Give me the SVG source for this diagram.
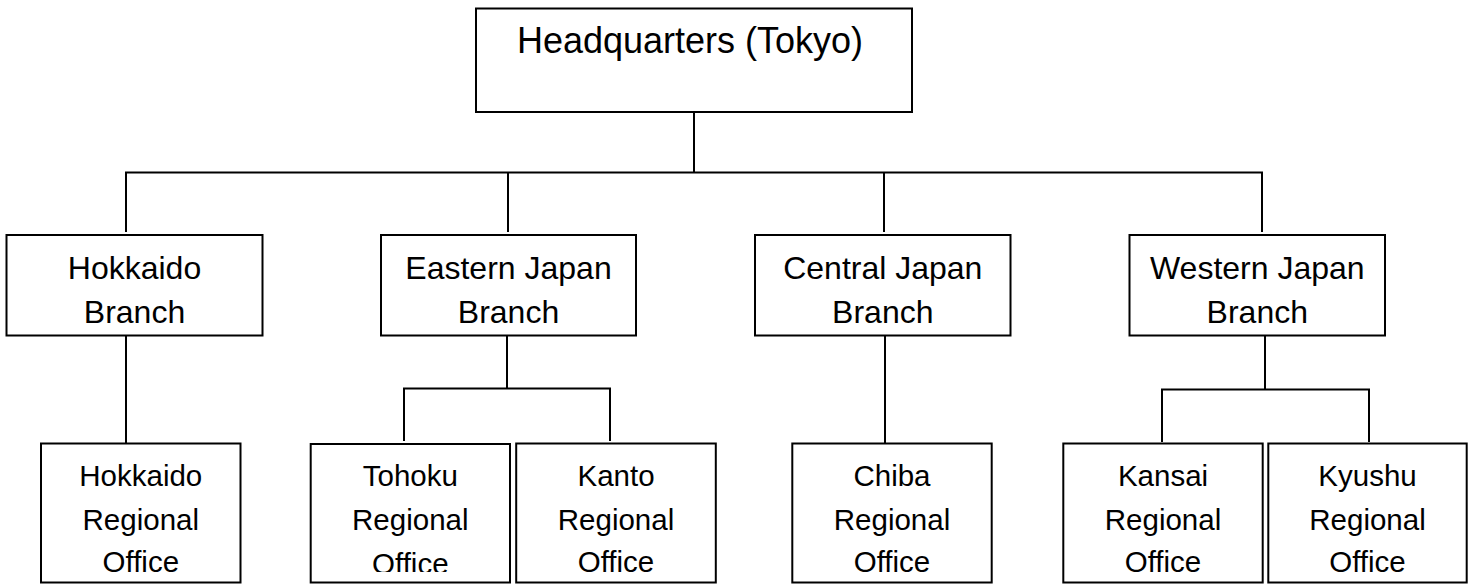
<svg xmlns="http://www.w3.org/2000/svg" width="1476" height="584" viewBox="0 0 1476 584">
<style>
.box{fill:#fff;stroke:#000;stroke-width:2}
.ln{fill:none;stroke:#000;stroke-width:2}
text{font-family:"Liberation Sans",Arial,sans-serif;fill:#000;text-anchor:middle}
.hq{font-size:36px}
.br{font-size:32px}
.ro{font-size:29.5px}
</style>
<defs>
<clipPath id="clipTohoku"><rect x="300" y="440" width="220" height="132"/></clipPath>
</defs>
<rect width="1476" height="584" fill="#fff"/>
<g id="connectors">
<path class="ln" d="M694 112V172.5"/>
<path class="ln" d="M126 232V172.5H1262V232"/>
<path class="ln" d="M508 172.5V232"/>
<path class="ln" d="M884 172.5V232"/>
<path class="ln" d="M126 336V443"/>
<path class="ln" d="M507 336V388.5"/>
<path class="ln" d="M404 441V388.5H610V441"/>
<path class="ln" d="M885 336V443"/>
<path class="ln" d="M1265 336V389.5"/>
<path class="ln" d="M1162 442V389.5H1369V442"/>
</g>
<g id="hq">
<rect class="box" x="476" y="8.5" width="436" height="103.5"/>
<text class="hq" x="690" y="53">Headquarters (Tokyo)</text>
</g>
<g id="hokkaido-branch">
<rect class="box" x="6.5" y="235" width="256" height="100.5"/>
<text class="br" x="134.5" y="279">Hokkaido</text>
<text class="br" x="134.5" y="323">Branch</text>
</g>
<g id="eastern-branch">
<rect class="box" x="381" y="235" width="255" height="100.5"/>
<text class="br" x="508.5" y="279">Eastern Japan</text>
<text class="br" x="508.5" y="323">Branch</text>
</g>
<g id="central-branch">
<rect class="box" x="755" y="235" width="255.5" height="100.5"/>
<text class="br" x="882.8" y="279">Central Japan</text>
<text class="br" x="882.8" y="323">Branch</text>
</g>
<g id="western-branch">
<rect class="box" x="1129.5" y="235" width="255.5" height="100.5"/>
<text class="br" x="1257.3" y="279">Western Japan</text>
<text class="br" x="1257.3" y="323">Branch</text>
</g>
<g id="hokkaido-office">
<rect class="box" x="41" y="443.5" width="199.5" height="139"/>
<text class="ro" x="140.8" y="486">Hokkaido</text>
<text class="ro" x="140.8" y="530">Regional</text>
<text class="ro" x="140.8" y="572">Office</text>
</g>
<g id="tohoku-office">
<rect class="box" x="310.7" y="444" width="199.3" height="138.5"/>
<g clip-path="url(#clipTohoku)">
<text class="ro" x="410.3" y="486">Tohoku</text>
<text class="ro" x="410.3" y="530">Regional</text>
<text class="ro" x="410.3" y="574">Office</text>
</g>
</g>
<g id="kanto-office">
<rect class="box" x="516.2" y="443.5" width="199.6" height="139"/>
<text class="ro" x="616" y="486">Kanto</text>
<text class="ro" x="616" y="530">Regional</text>
<text class="ro" x="616" y="572">Office</text>
</g>
<g id="chiba-office">
<rect class="box" x="792.3" y="443.5" width="199.4" height="139"/>
<text class="ro" x="892" y="486">Chiba</text>
<text class="ro" x="892" y="530">Regional</text>
<text class="ro" x="892" y="572">Office</text>
</g>
<g id="kansai-office">
<rect class="box" x="1063.3" y="443.5" width="199.4" height="139"/>
<text class="ro" x="1163" y="486">Kansai</text>
<text class="ro" x="1163" y="530">Regional</text>
<text class="ro" x="1163" y="572">Office</text>
</g>
<g id="kyushu-office">
<rect class="box" x="1268.3" y="443.5" width="198.4" height="139"/>
<text class="ro" x="1367.5" y="486">Kyushu</text>
<text class="ro" x="1367.5" y="530">Regional</text>
<text class="ro" x="1367.5" y="572">Office</text>
</g>
</svg>
